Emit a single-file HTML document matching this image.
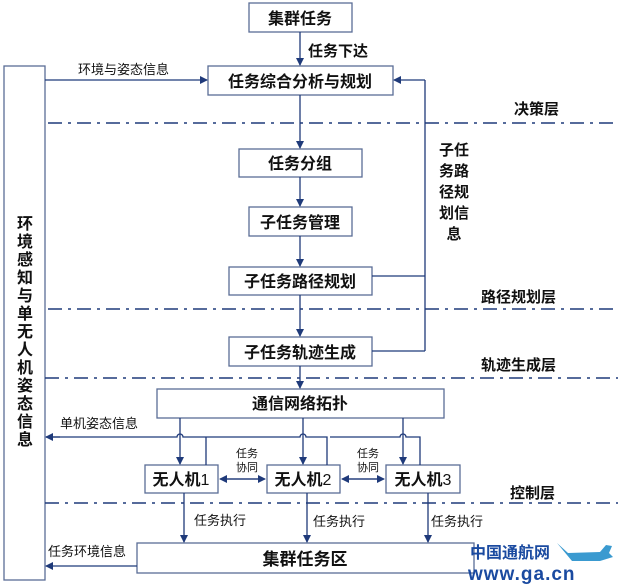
<!DOCTYPE html>
<html><head><meta charset="utf-8"><style>
html,body{margin:0;padding:0;background:#fff;width:620px;height:585px;overflow:hidden}
svg{display:block}
text{font-family:"Liberation Sans","Noto Sans CJK SC",sans-serif;fill:#111}
.b{font-weight:bold;font-size:16px}
.s{font-size:13px}
</style></head><body>
<svg width="620" height="585" viewBox="0 0 620 585" xmlns="http://www.w3.org/2000/svg">
<defs>
<marker id="a" markerWidth="8" markerHeight="8" refX="7" refY="4" orient="auto" markerUnits="userSpaceOnUse">
<path d="M0,0 L8,4 L0,8 z" fill="#1f3a7a"/></marker>
</defs>
<g fill="#fff" stroke="#5a6d96" stroke-width="1.3">
<rect x="4" y="66" width="41" height="514"/>
<rect x="249" y="3" width="103" height="29"/>
<rect x="208" y="66" width="185" height="29"/>
<rect x="239" y="149" width="123" height="28"/>
<rect x="249" y="207" width="103" height="29"/>
<rect x="229" y="267" width="143" height="28"/>
<rect x="229" y="337" width="143" height="29"/>
<rect x="157" y="389" width="287" height="29"/>
<rect x="145" y="465" width="73" height="28"/>
<rect x="267" y="465" width="73" height="28"/>
<rect x="386" y="465" width="74" height="28"/>
<rect x="137" y="543" width="337" height="30"/>
</g>
<g stroke="#1f3a7a" stroke-width="1.5" stroke-dasharray="14,6,3,6">
<line x1="48" y1="123" x2="618" y2="123"/>
<line x1="48" y1="309" x2="618" y2="309"/>
<line x1="45" y1="378" x2="618" y2="378"/>
<line x1="45" y1="503" x2="618" y2="503"/>
</g>
<g stroke="#1f3a7a" stroke-width="1.3" fill="none">
<line x1="300" y1="32" x2="300" y2="65" marker-end="url(#a)"/>
<line x1="45" y1="80" x2="207" y2="80" marker-end="url(#a)"/>
<line x1="425" y1="351" x2="425" y2="80"/>
<line x1="425" y1="80" x2="394" y2="80" marker-end="url(#a)"/>
<line x1="372" y1="276" x2="425" y2="276"/>
<line x1="372" y1="351" x2="425" y2="351"/>
<line x1="300" y1="95" x2="300" y2="148" marker-end="url(#a)"/>
<line x1="300" y1="177" x2="300" y2="206" marker-end="url(#a)"/>
<line x1="300" y1="236" x2="300" y2="266" marker-end="url(#a)"/>
<line x1="300" y1="295" x2="300" y2="336" marker-end="url(#a)"/>
<line x1="300" y1="366" x2="300" y2="388" marker-end="url(#a)"/>
<path d="M420,465 V437 H406 a3,3 0 0 0 -6,0 H330 M327,465 V437 H306 a3,3 0 0 0 -6,0 H206 M206,465 V437 H183 a3,3 0 0 0 -6,0 H46"/>
<line x1="60" y1="437" x2="46" y2="437" marker-end="url(#a)"/>
<line x1="180" y1="418" x2="180" y2="464" marker-end="url(#a)"/>
<line x1="303" y1="418" x2="303" y2="464" marker-end="url(#a)"/>
<line x1="403" y1="418" x2="403" y2="464" marker-end="url(#a)"/>
<line x1="226" y1="479" x2="265" y2="479" marker-end="url(#a)"/>
<line x1="259" y1="479" x2="220" y2="479" marker-end="url(#a)"/>
<line x1="347" y1="479" x2="384" y2="479" marker-end="url(#a)"/>
<line x1="378" y1="479" x2="342" y2="479" marker-end="url(#a)"/>
<line x1="184" y1="493" x2="184" y2="542" marker-end="url(#a)"/>
<line x1="307" y1="493" x2="307" y2="542" marker-end="url(#a)"/>
<line x1="428" y1="493" x2="428" y2="542" marker-end="url(#a)"/>
<line x1="137" y1="566" x2="46" y2="566" marker-end="url(#a)"/>
</g>
<g class="b" text-anchor="middle">
<text x="300" y="24">集群任务</text>
<text x="300" y="87">任务综合分析与规划</text>
<text x="300" y="169">任务分组</text>
<text x="300" y="228">子任务管理</text>
<text x="300" y="287">子任务路径规划</text>
<text x="300" y="358">子任务轨迹生成</text>
<text x="300" y="409">通信网络拓扑</text>
<text x="181" y="485">无人机<tspan font-weight="normal">1</tspan></text>
<text x="303" y="485">无人机<tspan font-weight="normal">2</tspan></text>
<text x="423" y="485">无人机<tspan font-weight="normal">3</tspan></text>
<text x="305" y="565" style="font-size:17px">集群任务区</text>
</g>
<g style="font-weight:bold;font-size:15px">
<text x="308" y="56">任务下达</text>
<text x="514" y="114">决策层</text>
<text x="481" y="302">路径规划层</text>
<text x="481" y="370">轨迹生成层</text>
<text x="510" y="498">控制层</text>
</g>
<g style="font-weight:bold;font-size:15px" text-anchor="middle">
<text x="454" y="155">子任</text>
<text x="454" y="176">务路</text>
<text x="454" y="197">径规</text>
<text x="454" y="218">划信</text>
<text x="454" y="239">息</text>
</g>
<g style="font-weight:bold;font-size:16px" text-anchor="middle">
<text x="25" y="229">环</text><text x="25" y="247">境</text><text x="25" y="265">感</text><text x="25" y="283">知</text><text x="25" y="301">与</text><text x="25" y="319">单</text><text x="25" y="337">无</text><text x="25" y="355">人</text><text x="25" y="373">机</text><text x="25" y="391">姿</text><text x="25" y="409">态</text><text x="25" y="427">信</text><text x="25" y="445">息</text>
</g>
<g class="s">
<text x="78" y="74">环境与姿态信息</text>
<text x="60" y="428">单机姿态信息</text>
<text x="194" y="525">任务执行</text>
<text x="313" y="526">任务执行</text>
<text x="431" y="526">任务执行</text>
<text x="48" y="556">任务环境信息</text>
</g>
<g text-anchor="middle">
<text x="247" y="457" style="font-size:11px">任务</text>
<text x="247" y="471" style="font-size:11px">协同</text>
<text x="368" y="457" style="font-size:11px">任务</text>
<text x="368" y="471" style="font-size:11px">协同</text>
</g>
<text x="470" y="558" style="font-size:16px;font-weight:bold;fill:#1a4aa0">中国通航网</text>
<text x="468" y="580" style="font-size:19px;font-weight:bold;fill:#1a4aa0;letter-spacing:1px">www.ga.cn</text>
<path d="M557,543 L568,553 L600,552 L606,545 L612,546 L609,553 L613,557 L600,561 L572,561 Z" fill="#3a9ad0"/>
</svg>
</body></html>
